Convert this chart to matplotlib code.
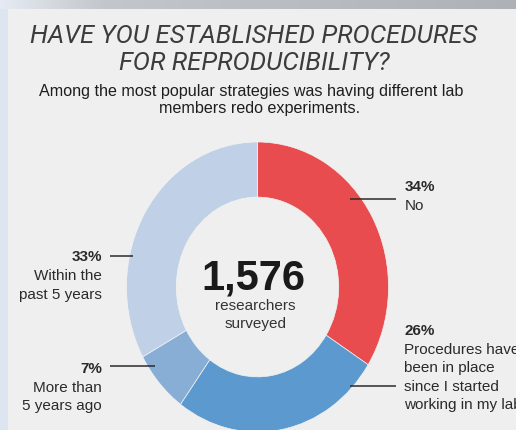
import numpy as np
import matplotlib
matplotlib.use("Agg")
import matplotlib.pyplot as plt
from matplotlib.colors import LinearSegmentedColormap

# survey answers, clockwise from 12 o'clock
shares = [34, 26, 7, 33]
share_labels = ["34%", "26%", "7%", "33%"]
answers = [
    ["No"],
    ["Procedures have", "been in place", "since I started", "working in my lab"],
    ["More than", "5 years ago"],
    ["Within the", "past 5 years"],
]
colors = ["#e94c4f", "#5b99cf", "#88aed5", "#bfd0e7"]

total = "1,576"
total_text = ["researchers", "surveyed"]
title_lines = ["HAVE YOU ESTABLISHED PROCEDURES", "FOR REPRODUCIBILITY?"]
subtitle_lines = ["Among the most popular strategies was having different lab",
                  "members redo experiments."]

W, H = 516, 431
fig = plt.figure(figsize=(W / 100, H / 100), dpi=100)
fig.patch.set_facecolor("#efefef")

# donut (picture is a bit stretched vertically, so aspect is left free)
cx, cy, rx, ry = 257.5, 288, 131, 145
ax = fig.add_axes([(cx - rx) / W, (H - cy - ry) / H, 2 * rx / W, 2 * ry / H])
ax.pie(shares, colors=colors, startangle=90, counterclock=False,
       wedgeprops=dict(width=0.38, edgecolor="#f2f2f2", linewidth=0.5))
ax.set_aspect("auto")
ax.set_xlim(-1, 1)
ax.set_ylim(-1, 1)
ax.axis("off")

# overlay in pixel coordinates for the texts and frame pieces
ov = fig.add_axes([0, 0, 1, 1])
ov.axis("off")
ov.patch.set_visible(False)

# screenshot frame: grey bar on top, pale blue strip on the left
cmap = LinearSegmentedColormap.from_list(
    "bar", [(0, "#e6eaf2"), (0.2, "#c3c7cc"), (1, "#aeb1b5")])
ov.imshow(np.linspace(0, 1, 256)[None, :], cmap=cmap, aspect="auto",
          extent=[0, W, 10, 0], zorder=1)
ov.fill_between([0, 8], 10, H, color="#dde5f1", lw=0, zorder=1)
ov.set_xlim(0, W)
ov.set_ylim(H, 0)

tfont = dict(family="Roboto", weight="normal", style="italic", color="#3c3c3c",
             fontsize=18.5)
ov.text(254, 43, title_lines[0], ha="center", va="baseline", **tfont)
ov.text(254, 70, title_lines[1], ha="center", va="baseline", **tfont)

sfont = dict(family="Liberation Sans", color="#1e1e1e", fontsize=11.6)
ov.text(251.5, 96.5, subtitle_lines[0], ha="center", va="baseline", **sfont)
ov.text(260, 113.5, subtitle_lines[1], ha="center", va="baseline", **sfont)

# centre of the donut
ov.text(253, 290, total, ha="center", va="baseline", fontsize=30,
        family="Liberation Sans", weight="bold", color="#1a1a1a")
ov.text(255, 310, total_text[0], ha="center", va="baseline", fontsize=11,
        family="Liberation Sans", color="#333333")
ov.text(256, 328, total_text[1], ha="center", va="baseline", fontsize=11,
        family="Liberation Sans", color="#333333")

# label placement: (text x, first baseline, align, leader y, leader x0, leader x1)
label_pos = [
    (404.5, 191.5, "left", 200, 350, 396),
    (404.5, 335, "left", 387.5, 350, 396),
    (102, 373, "right", 367, 110, 155),
    (102, 261.5, "right", 257, 110, 133),
]
step = 18.6
for pct, lines, (tx, ty, ha, ly, x0, x1) in zip(share_labels, answers, label_pos):
    ov.text(tx, ty, pct, ha=ha, va="baseline", fontsize=11, weight="bold",
            family="Liberation Sans", color="#2a2a2a")
    for i, line in enumerate(lines):
        ov.text(tx, ty + step * (i + 1), line, ha=ha, va="baseline",
                fontsize=11, family="Liberation Sans", color="#2a2a2a")
    ov.plot([x0, x1], [ly, ly], color="#2b2b2b", lw=1.1, solid_capstyle="butt")

fig.savefig("out.png", dpi=100, facecolor=fig.get_facecolor())
